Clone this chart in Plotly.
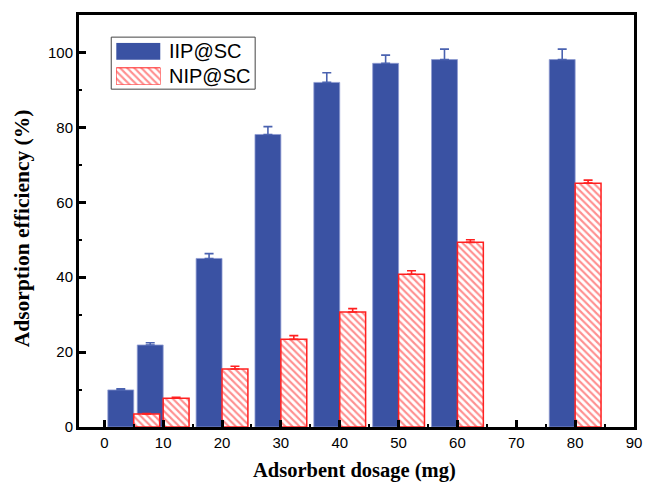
import plotly.graph_objects as go

# Adsorbent dosage (mg) and adsorption efficiency (%) with standard deviations
dosage = [5, 10, 20, 30, 40, 50, 60, 80]
iip_eff = [9.9, 21.9, 45.0, 78.1, 92.0, 97.1, 98.1, 98.1]
iip_err = [0.3, 0.6, 1.3, 2.1, 2.6, 2.2, 2.8, 2.8]
nip_eff = [3.5, 7.7, 15.5, 23.4, 30.7, 40.8, 49.3, 65.1]
nip_err = [0.1, 0.2, 0.7, 1.0, 0.9, 0.9, 0.7, 0.8]
series_names = ["IIP@SC", "NIP@SC"]

BLUE = "#3A52A3"
RED = "#FF2020"
BAR_W = 4.4
HATCH = dict(shape="\\", fgcolor=RED, bgcolor="white", size=5, solidity=0.42)

fig = go.Figure()

fig.add_trace(go.Bar(
    x=dosage, y=iip_eff, width=BAR_W, offset=-BAR_W,
    marker=dict(color=BLUE, line=dict(color="#8E9BD2", width=0.8)),
    error_y=dict(type="data", array=iip_err, symmetric=False, arrayminus=[0] * len(iip_err),
                 color="#4A62B0", thickness=1.6, width=4.5),
    name=series_names[0], showlegend=False,
))
fig.add_trace(go.Bar(
    x=dosage, y=nip_eff, width=BAR_W, offset=0,
    marker=dict(color="white", line=dict(color=RED, width=1.5), pattern=HATCH),
    error_y=dict(type="data", array=nip_err, symmetric=False, arrayminus=[0] * len(nip_err),
                 color=RED, thickness=1.6, width=4.5),
    name=series_names[1], showlegend=False,
))

# Legend swatches drawn as wide bars on a small inset axis
fig.add_trace(go.Bar(
    y=[1], x=[1], orientation="h", width=0.68, xaxis="x2", yaxis="y2",
    marker=dict(color=BLUE, line=dict(width=0)), showlegend=False, hoverinfo="skip",
))
fig.add_trace(go.Bar(
    y=[0], x=[1], orientation="h", width=0.68, xaxis="x2", yaxis="y2",
    marker=dict(color="white", line=dict(color=RED, width=1), pattern=HATCH),
    showlegend=False, hoverinfo="skip",
))

tick_font = dict(family="Liberation Sans, Arial, sans-serif", size=15, color="black")
axis_common = dict(
    showline=True, linewidth=3, linecolor="black", mirror=True,
    ticks="inside", ticklen=7, tickwidth=2.5, tickcolor="black",
    showgrid=False, zeroline=False, tickfont=tick_font,
)

fig.update_layout(
    width=654, height=488,
    margin=dict(l=79, r=12, t=12, b=61),
    plot_bgcolor="white", paper_bgcolor="white",
    barmode="overlay",
    xaxis=dict(range=[-4.3, 90], tickvals=list(range(0, 100, 10)),
               minor=dict(tickvals=list(range(5, 90, 10)), ticks="inside", ticklen=3,
                          tickwidth=2, tickcolor="black"),
               **axis_common),
    yaxis=dict(range=[0, 110], tickvals=list(range(0, 120, 20)),
               minor=dict(tickvals=list(range(10, 110, 20)), ticks="inside", ticklen=3,
                          tickwidth=2, tickcolor="black"),
               **axis_common),
    xaxis2=dict(domain=[(116.7 - 79) / 563, (161.7 - 79) / 563], range=[0, 1],
                anchor="y2", visible=False, fixedrange=True),
    yaxis2=dict(domain=[1 - (82.3 - 12) / 415, 1 - (40 - 12) / 415], range=[-0.34, 1.34],
                anchor="x2", visible=False, fixedrange=True),
    shapes=[dict(type="rect", xref="paper", yref="paper",
                 x0=(111.7 - 79) / 563, x1=(257.7 - 79) / 563,
                 y0=1 - (86.7 - 12) / 415, y1=1 - (34.3 - 12) / 415,
                 line=dict(color="#444444", width=1), fillcolor="white", layer="below")],
    annotations=[
        dict(text=series_names[0], xref="paper", yref="paper", x=(168 - 79) / 563,
             y=1 - (48.6 - 12) / 415, xanchor="left", yanchor="middle", showarrow=False,
             font=dict(family="Liberation Sans, Arial, sans-serif", size=20, color="black")),
        dict(text=series_names[1], xref="paper", yref="paper", x=(168 - 79) / 563,
             y=1 - (73.6 - 12) / 415, xanchor="left", yanchor="middle", showarrow=False,
             font=dict(family="Liberation Sans, Arial, sans-serif", size=20, color="black")),
        dict(text="<b>Adsorbent dosage (mg)</b>", xref="paper", yref="paper",
             x=(358.5 - 79) / 563, y=-(471 - 427) / 415, xanchor="center", yanchor="middle",
             showarrow=False,
             font=dict(family="Liberation Serif, Times New Roman, serif", size=20.5, color="black")),
        dict(text="<b>Adsorption efficiency (%)</b>", xref="paper", yref="paper",
             x=(22 - 79) / 563, y=1 - (227 - 12) / 415, xanchor="center", yanchor="middle",
             textangle=-90, showarrow=False,
             font=dict(family="Liberation Serif, Times New Roman, serif", size=21.5, color="black")),
    ],
)

fig.write_html("out.html")
